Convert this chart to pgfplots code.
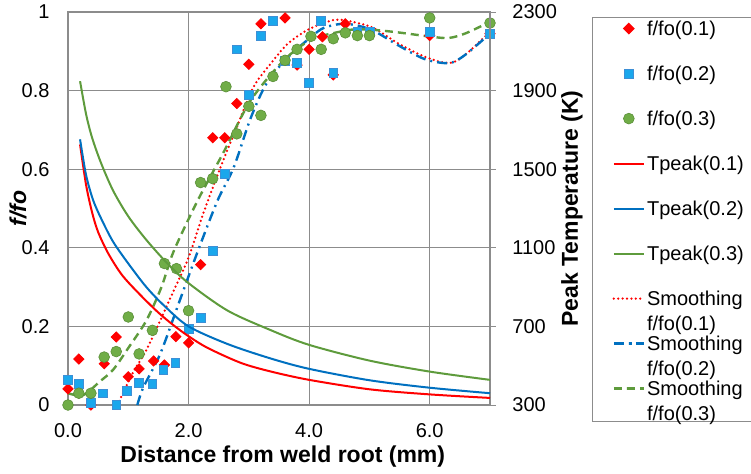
\documentclass[border=0pt]{standalone}
\usepackage{pgfplots}
\pgfplotsset{compat=1.18}
\usepackage{fontspec}
\setmainfont{Liberation Sans}
\definecolor{cRed}{HTML}{FF0000}
\definecolor{cSq}{HTML}{1AA7EC}
\definecolor{cSqE}{HTML}{3D8FD6}
\definecolor{cBlue}{HTML}{0070C0}
\definecolor{cGreenF}{HTML}{70AD47}
\definecolor{cGreenE}{HTML}{5A8F38}
\definecolor{cGreen}{HTML}{5E9B3C}
\definecolor{cGrid}{HTML}{8C8C8C}
\definecolor{cAxis}{HTML}{8C8C8C}
\pgfplotsset{
  redpt/.style={only marks, mark=square*, mark size=1.8pt, mark options={rotate=45, fill=cRed, draw=cRed}},
  bluept/.style={only marks, mark=square*, mark size=2.2pt, mark options={fill=cSq, draw=cSqE, line width=0.3pt}},
  greenpt/.style={only marks, mark=*, mark size=2.7pt, mark options={fill=cGreenF, draw=cGreenE, line width=0.3pt}},
  redT/.style={cRed, line width=1pt, no marks, smooth},
  blueT/.style={cBlue, line width=1pt, no marks, smooth},
  greenT/.style={cGreen, line width=1pt, no marks, smooth},
  redS/.style={cRed, line width=1.25pt, no marks, smooth, line cap=round, dash pattern=on 0pt off 2.2pt},
  blueS/.style={cBlue, line width=1.2pt, no marks, smooth, dash pattern=on 5pt off 2.5pt on 1pt off 2.5pt},
  greenS/.style={cGreen, line width=1.2pt, no marks, smooth, dash pattern=on 4pt off 2.5pt},
  base/.style={scale only axis, width=211pt, height=196.5pt, at={(0,0)}, anchor=south west,
     xmin=0, xmax=7, clip=false,
     tick label style={font=\fontsize{10}{12}\selectfont},
     label style={font=\bfseries\fontsize{11.5}{14}\selectfont}},
}
\begin{document}
\begin{tikzpicture}
\begin{axis}[base, ymin=0, ymax=1,
  xtick={0,2,4,6}, xticklabels={0.0,2.0,4.0,6.0},
  ytick={0,0.2,0.4,0.6,0.8,1}, yticklabels={0,0.2,0.4,0.6,0.8,1},
  grid=major, grid style={cGrid, line width=0.4pt},
  axis line style={cAxis, line width=0.7pt},
  major tick length=0pt,
  xticklabel style={yshift=-5.7pt}, yticklabel style={xshift=-5.7pt},
  xlabel={Distance from weld root (mm)}, ylabel={\itshape f/fo},
  xlabel style={at={(axis description cs:0.509,-0.132)}, anchor=center},
  ylabel style={at={(axis description cs:-0.1185,0.5)}, anchor=center},
]
\addplot[redpt] coordinates {(0,0.041) (0.18,0.117) (0.38,0) (0.6,0.105) (0.8,0.173) (1.0,0.072) (1.18,0.092) (1.42,0.112) (1.6,0.102) (1.79,0.174) (2.0,0.158) (2.2,0.357) (2.4,0.68) (2.6,0.68) (2.8,0.767) (3.0,0.867) (3.2,0.97) (3.6,0.985) (3.8,0.865) (4.0,0.905) (4.22,0.937) (4.4,0.84) (4.6,0.97) (6.0,0.94) (7.0,0.945)};
\addplot[bluept] coordinates {(0,0.064) (0.18,0.053) (0.38,0.005) (0.58,0.03) (0.8,0) (0.98,0.036) (1.18,0.056) (1.4,0.053) (1.58,0.09) (1.78,0.107) (2.0,0.194) (2.2,0.222) (2.4,0.393) (2.6,0.588) (2.8,0.905) (3.0,0.79) (3.2,0.94) (3.4,0.977) (3.6,0.875) (3.8,0.87) (4.0,0.82) (4.2,0.977) (4.4,0.845) (4.8,0.95) (5.0,0.95) (6.0,0.95) (7.0,0.945)};
\addplot[greenpt] coordinates {(0,0) (0.18,0.03) (0.38,0.03) (0.6,0.122) (0.8,0.136) (1.0,0.224) (1.18,0.13) (1.4,0.19) (1.6,0.36) (1.8,0.347) (2.0,0.24) (2.2,0.566) (2.4,0.576) (2.62,0.81) (2.8,0.69) (3.0,0.76) (3.2,0.737) (3.4,0.836) (3.6,0.877) (3.8,0.905) (4.03,0.938) (4.2,0.905) (4.4,0.932) (4.6,0.947) (4.8,0.94) (5.0,0.94) (6.0,0.985) (7.0,0.972)};
\addplot[redS] coordinates {(0.82,0) (1.07,0.08) (1.3,0.14) (1.53,0.215) (1.75,0.29) (2.0,0.375) (2.25,0.49) (2.53,0.605) (2.8,0.707) (3.08,0.81) (3.37,0.87) (3.65,0.92) (3.98,0.955) (4.3,0.975) (4.53,0.98) (5.03,0.962) (5.48,0.92) (5.92,0.886) (6.32,0.87) (6.58,0.89) (7,0.95)};
\addplot[blueS] coordinates {(1.15,0) (1.25,0.045) (1.53,0.13) (1.84,0.26) (2.15,0.39) (2.48,0.52) (2.75,0.605) (3.03,0.73) (3.3,0.82) (3.65,0.885) (4.03,0.936) (4.25,0.96) (4.6,0.97) (5.03,0.955) (5.48,0.915) (5.92,0.88) (6.32,0.87) (6.58,0.89) (7,0.945)};
\addplot[greenS] coordinates {(0,0.03) (0.25,0.025) (0.53,0.06) (0.75,0.09) (1.0,0.145) (1.3,0.215) (1.55,0.3) (1.75,0.39) (2.15,0.52) (2.57,0.64) (3.03,0.775) (3.58,0.877) (4.03,0.93) (4.37,0.945) (4.7,0.955) (5.03,0.955) (5.48,0.948) (6.03,0.937) (6.32,0.934) (6.6,0.946) (7,0.975)};
\end{axis}
\begin{axis}[base, ymin=300, ymax=2300, axis x line=none, axis y line*=right,
  ytick={300,700,1100,1500,1900,2300}, yticklabels={300,700,1100,1500,1900,2300},
  tick align=outside, major tick length=3pt, tick style={cAxis, line width=0.5pt},
  axis line style={cAxis, line width=0.7pt},
  yticklabel style={xshift=4.7pt},
  ylabel={Peak Temperature (K)},
  ylabel style={at={(axis description cs:1.194,0.5)}, anchor=center},
  legend image code/.code={\draw[mark repeat=2,mark phase=2,#1] plot coordinates {(0pt,0pt) (7.5pt,0pt) (15pt,0pt)};},
  legend image post style={yshift=3.5pt},
  legend style={at={(1.2417,0.9873)}, anchor=north west, draw=cAxis, line width=0.6pt,
    inner xsep=10pt, inner ysep=1pt, row sep=11.5pt,
    cells={anchor=base west},
    nodes={anchor=base west, text width=62pt, align=left, text height=8pt, text depth=3pt,
      inner xsep=1pt, inner ysep=0pt, font=\fontsize{10}{12.5}\selectfont}},
]
\addlegendimage{redpt}\addlegendentry{f/fo(0.1)}
\addlegendimage{bluept}\addlegendentry{f/fo(0.2)}
\addlegendimage{greenpt}\addlegendentry{f/fo(0.3)}
\addplot[redT] coordinates {(0.2,1626) (0.3,1420) (0.4,1280) (0.5,1180) (0.67,1070) (0.9,960) (1.2,860) (1.5,770) (1.75,706) (2.0,650) (2.32,590) (2.87,514) (3.37,470) (4,428) (5,380) (6,354) (7,336)};
\addlegendentry{Tpeak(0.1)}
\addplot[blueT] coordinates {(0.2,1652) (0.3,1470) (0.42,1340) (0.57,1236) (0.75,1130) (1.0,1020) (1.3,900) (1.6,804) (2.0,700) (2.65,610) (3.37,536) (4,484) (5,426) (6,388) (7,360)};
\addlegendentry{Tpeak(0.2)}
\addplot[greenT] coordinates {(0.2,1948) (0.3,1780) (0.4,1660) (0.55,1530) (0.75,1390) (1.0,1260) (1.3,1140) (1.65,1020) (2.0,920) (2.65,780) (3.37,680) (4,606) (5,526) (6,470) (7,428)};
\addlegendentry{Tpeak(0.3)}
\addlegendimage{redS}\addlegendentry{Smoothing\\f/fo(0.1)}
\addlegendimage{blueS}\addlegendentry{Smoothing\\f/fo(0.2)}
\addlegendimage{greenS}\addlegendentry[text depth=12pt]{Smoothing\\f/fo(0.3)}
\end{axis}
\pgfresetboundingbox
\useasboundingbox (-34pt,-34pt) rectangle (341.5pt,202.5pt);
\end{tikzpicture}
\end{document}
